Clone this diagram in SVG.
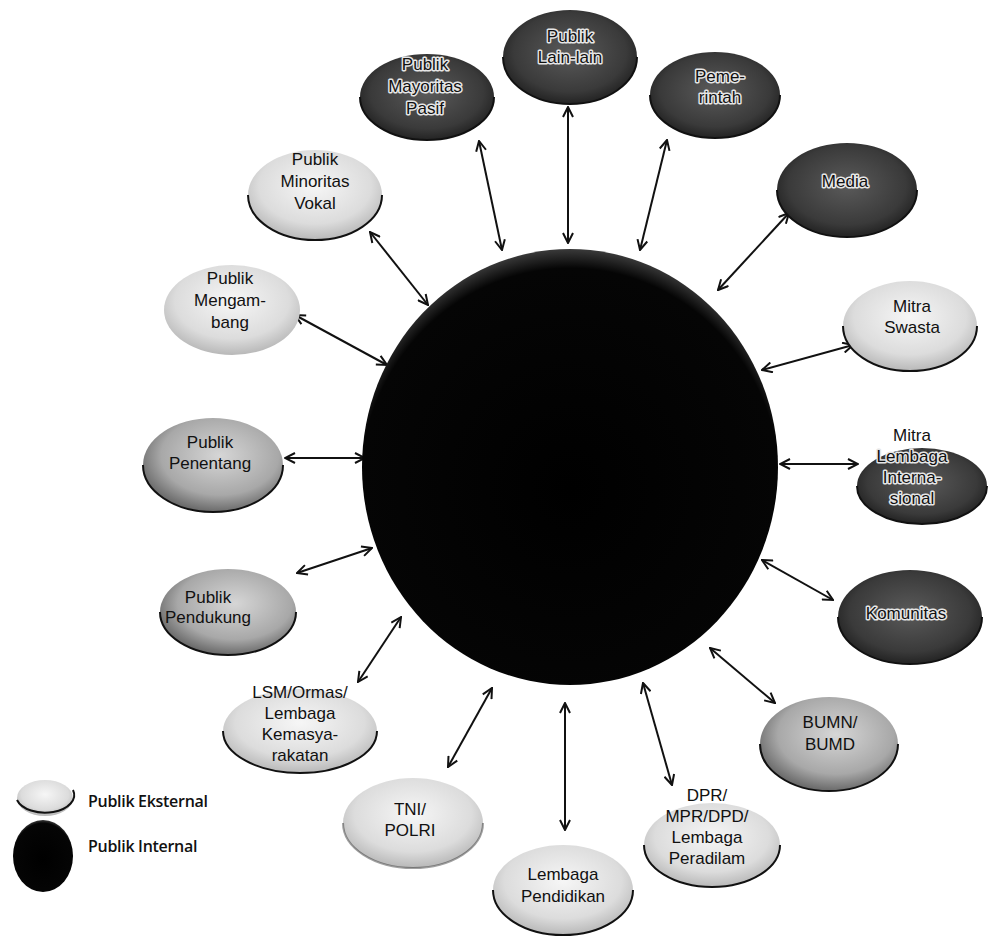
<svg xmlns="http://www.w3.org/2000/svg" width="990" height="937" viewBox="0 0 990 937">
<style>
  .lbl { font-family: "Liberation Sans", Arial, sans-serif; font-size: 17px; fill: #111; text-anchor: middle; }
  .halo { stroke: #e6e6e6; stroke-width: 3px; paint-order: stroke; stroke-linejoin: round; }
  .rim { fill: none; stroke: #111; stroke-width: 2; }
  .conn { stroke: #111; stroke-width: 2; fill: none; marker-start: url(#ah); marker-end: url(#ah); }
  .leg { font-family: "Open Sans", "Liberation Sans", sans-serif; font-size: 16px; font-weight: 600; fill: #111; letter-spacing: -0.3px; }
</style>
<defs>
  <radialGradient id="light" cx="50%" cy="40%" r="60%">
    <stop offset="0" stop-color="#f6f6f6"/>
    <stop offset="0.7" stop-color="#dcdcdc"/>
    <stop offset="1" stop-color="#b8b8b8"/>
  </radialGradient>
  <radialGradient id="mid" cx="55%" cy="40%" r="60%">
    <stop offset="0" stop-color="#d6d6d6"/>
    <stop offset="0.7" stop-color="#a8a8a8"/>
    <stop offset="1" stop-color="#6a6a6a"/>
  </radialGradient>
  <radialGradient id="dark" cx="50%" cy="45%" r="60%">
    <stop offset="0" stop-color="#5a5a5a"/>
    <stop offset="0.7" stop-color="#3a3a3a"/>
    <stop offset="1" stop-color="#1a1a1a"/>
  </radialGradient>
  <radialGradient id="core" cx="50%" cy="55%" r="55%">
    <stop offset="0" stop-color="#000"/>
    <stop offset="0.92" stop-color="#050505"/>
    <stop offset="1" stop-color="#3a3a3a"/>
  </radialGradient>
  <marker id="ah" viewBox="0 0 12 12" refX="11" refY="6" markerWidth="12" markerHeight="12" markerUnits="userSpaceOnUse" orient="auto-start-reverse">
    <path d="M1,1 L11,6 L1,11" fill="none" stroke="#111" stroke-width="2"/>
  </marker>
</defs>
<rect width="990" height="937" fill="#fff"/>

<g id="connectors">
  <line class="conn" x1="568" y1="243" x2="568" y2="107"/>
  <line class="conn" x1="502" y1="250" x2="479" y2="141"/>
  <line class="conn" x1="640" y1="250" x2="667" y2="140"/>
  <line class="conn" x1="718" y1="290" x2="789" y2="213"/>
  <line class="conn" x1="762" y1="370" x2="853" y2="345"/>
  <line class="conn" x1="780" y1="464" x2="858" y2="464"/>
  <line class="conn" x1="762" y1="560" x2="833" y2="600"/>
  <line class="conn" x1="710" y1="648" x2="775" y2="703"/>
  <line class="conn" x1="643" y1="683" x2="672" y2="785"/>
  <line class="conn" x1="565" y1="703" x2="565" y2="830"/>
  <line class="conn" x1="492" y1="688" x2="448" y2="767"/>
  <line class="conn" x1="401" y1="617" x2="358" y2="682"/>
  <line class="conn" x1="372" y1="548" x2="297" y2="573"/>
  <line class="conn" x1="365" y1="458" x2="285" y2="458"/>
  <line class="conn" x1="387" y1="365" x2="295" y2="315"/>
  <line class="conn" x1="428" y1="305" x2="370" y2="232"/>
</g>

<g id="publik-internal">
  <ellipse cx="570" cy="467" rx="208" ry="218" fill="url(#core)"/>
</g>

<g id="publik-lain-lain">
  <ellipse cx="570" cy="57" rx="67" ry="47" fill="url(#dark)"/>
  <path class="rim" d="M503,57 A67,47 0 0 0 637,57"/>
  <text class="lbl halo" x="570" y="42">Publik</text>
  <text class="lbl halo" x="570" y="63">Lain-lain</text>
</g>

<g id="publik-mayoritas-pasif">
  <ellipse cx="427" cy="97" rx="67" ry="43" fill="url(#dark)"/>
  <path class="rim" d="M360,97 A67,43 0 0 0 494,97"/>
  <text class="lbl halo" x="425" y="70">Publik</text>
  <text class="lbl halo" x="425" y="92">Mayoritas</text>
  <text class="lbl halo" x="425" y="114">Pasif</text>
</g>

<g id="pemerintah">
  <ellipse cx="715" cy="95" rx="65" ry="43" fill="url(#dark)"/>
  <path class="rim" d="M650,95 A65,43 0 0 0 780,95"/>
  <text class="lbl halo" x="720" y="82">Peme-</text>
  <text class="lbl halo" x="720" y="103">rintah</text>
</g>

<g id="media">
  <ellipse cx="847" cy="190" rx="70" ry="47" fill="url(#dark)"/>
  <path class="rim" d="M777,190 A70,47 0 0 0 917,190"/>
  <text class="lbl halo" x="845" y="187">Media</text>
</g>

<g id="mitra-swasta">
  <ellipse cx="910" cy="326" rx="67" ry="45" fill="url(#light)"/>
  <path class="rim" d="M843,326 A67,45 0 0 0 977,326"/>
  <text class="lbl" x="912" y="312">Mitra</text>
  <text class="lbl" x="912" y="333">Swasta</text>
</g>

<g id="mitra-lembaga-internasional">
  <ellipse cx="922" cy="486" rx="65" ry="38" fill="url(#dark)"/>
  <path class="rim" d="M857,486 A65,38 0 0 0 987,486"/>
  <text class="lbl" x="912" y="441">Mitra</text>
  <text class="lbl halo" x="912" y="462">Lembaga</text>
  <text class="lbl halo" x="912" y="483">Interna-</text>
  <text class="lbl halo" x="912" y="504">sional</text>
</g>

<g id="komunitas">
  <ellipse cx="910" cy="617" rx="72" ry="47" fill="url(#dark)"/>
  <path class="rim" d="M838,617 A72,47 0 0 0 982,617"/>
  <text class="lbl halo" x="906" y="619">Komunitas</text>
</g>

<g id="bumn-bumd">
  <ellipse cx="829" cy="744" rx="69" ry="47" fill="url(#mid)"/>
  <path class="rim" d="M760,744 A69,47 0 0 0 898,744"/>
  <text class="lbl" x="830" y="728">BUMN/</text>
  <text class="lbl" x="830" y="750">BUMD</text>
</g>

<g id="dpr-mpr-dpd">
  <ellipse cx="712" cy="845" rx="68" ry="42" fill="url(#light)"/>
  <path class="rim" d="M644,845 A68,42 0 0 0 780,845"/>
  <text class="lbl" x="707" y="801">DPR/</text>
  <text class="lbl" x="707" y="822">MPR/DPD/</text>
  <text class="lbl" x="707" y="843">Lembaga</text>
  <text class="lbl" x="707" y="864">Peradilam</text>
</g>

<g id="lembaga-pendidikan">
  <ellipse cx="563" cy="890" rx="70" ry="45" fill="url(#light)"/>
  <path class="rim" d="M493,890 A70,45 0 0 0 633,890"/>
  <text class="lbl" x="563" y="880">Lembaga</text>
  <text class="lbl" x="563" y="902">Pendidikan</text>
</g>

<g id="tni-polri">
  <ellipse cx="413" cy="823" rx="70" ry="45" fill="url(#light)"/>
  <path class="rim" d="M343,823 A70,45 0 0 0 483,823" opacity="0.4"/>
  <text class="lbl" x="410" y="815">TNI/</text>
  <text class="lbl" x="410" y="836">POLRI</text>
</g>

<g id="lsm-ormas">
  <ellipse cx="300" cy="731" rx="77" ry="42" fill="url(#light)"/>
  <path class="rim" d="M223,731 A77,42 0 0 0 377,731"/>
  <text class="lbl" x="300" y="698">LSM/Ormas/</text>
  <text class="lbl" x="300" y="719">Lembaga</text>
  <text class="lbl" x="300" y="740">Kemasya-</text>
  <text class="lbl" x="300" y="761">rakatan</text>
</g>

<g id="publik-pendukung">
  <ellipse cx="228" cy="612" rx="68" ry="43" fill="url(#mid)"/>
  <path class="rim" d="M160,612 A68,43 0 0 0 296,612"/>
  <text class="lbl" x="208" y="603">Publik</text>
  <text class="lbl" x="208" y="623">Pendukung</text>
</g>

<g id="publik-penentang">
  <ellipse cx="213" cy="465" rx="70" ry="47" fill="url(#mid)"/>
  <path class="rim" d="M143,465 A70,47 0 0 0 283,465"/>
  <text class="lbl" x="210" y="448">Publik</text>
  <text class="lbl" x="210" y="469">Penentang</text>
</g>

<g id="publik-mengambang">
  <ellipse cx="232" cy="310" rx="68" ry="45" fill="url(#light)"/>
  <text class="lbl" x="230" y="284">Publik</text>
  <text class="lbl" x="230" y="306">Mengam-</text>
  <text class="lbl" x="230" y="328">bang</text>
</g>

<g id="publik-minoritas-vokal">
  <ellipse cx="315" cy="195" rx="67" ry="45" fill="url(#light)"/>
  <path class="rim" d="M248,195 A67,45 0 0 0 382,195"/>
  <text class="lbl" x="315" y="165">Publik</text>
  <text class="lbl" x="315" y="187">Minoritas</text>
  <text class="lbl" x="315" y="209">Vokal</text>
</g>

<g id="legend">
  <ellipse cx="45" cy="798" rx="28" ry="18" fill="url(#light)"/>
  <path class="rim" d="M17,800 A28,17 0 0 0 73,790" stroke-width="1.5"/>
  <ellipse cx="43" cy="856" rx="30" ry="36" fill="url(#core)"/>
  <text class="leg" x="88" y="807">Publik Eksternal</text>
  <text class="leg" x="88" y="852">Publik Internal</text>
</g>
</svg>
